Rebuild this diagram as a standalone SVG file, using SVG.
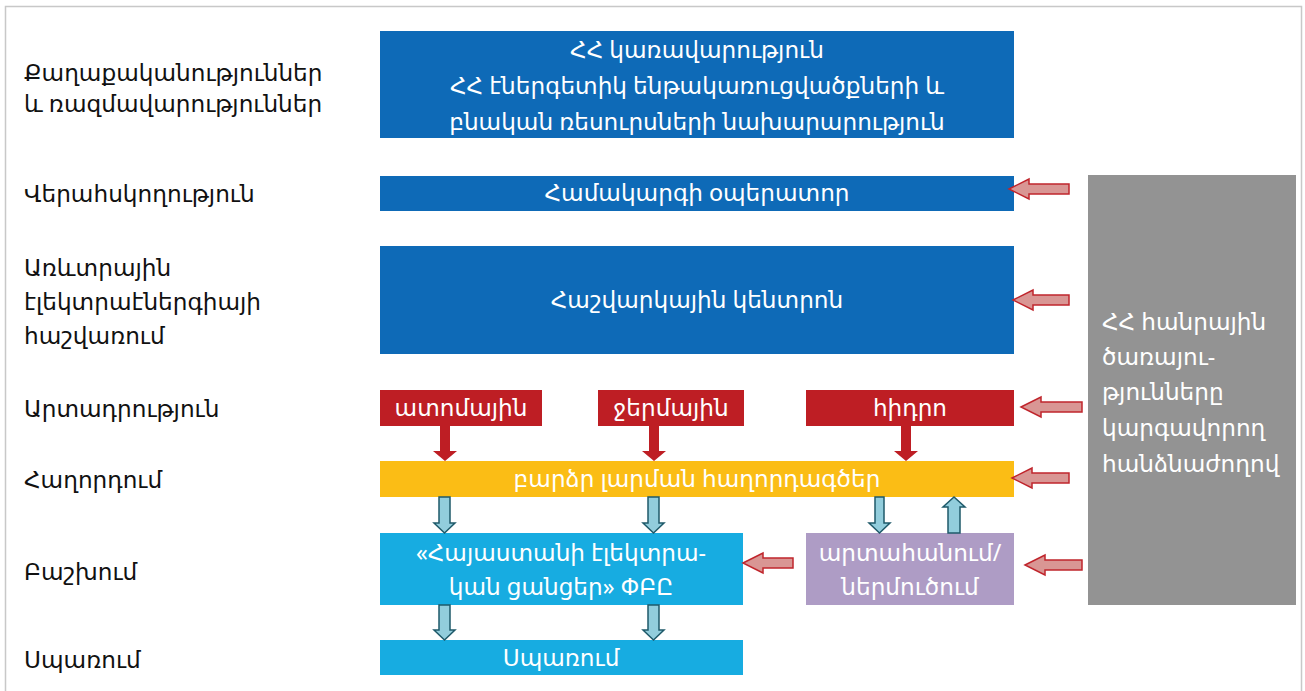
<svg xmlns="http://www.w3.org/2000/svg" width="1305" height="691" viewBox="0 0 1305 691">
<style>
text{font-family:"Noto Sans","DejaVu Sans",sans-serif;font-size:23.2px}
.lbl{fill:#111}
.w{fill:#fff;text-anchor:middle}
.wl{fill:#fff}
.pink{fill:#D99694;stroke:#C0262D;stroke-width:1.5}
.teal{fill:#92CDDC;stroke:#1F5A6A;stroke-width:1.5}
.red{fill:#BE1E24}
</style>
<rect x="0" y="0" width="1305" height="691" fill="#fff"/>
<rect x="5.5" y="6.5" width="1296" height="700" fill="none" stroke="#c8c8c8" stroke-width="1.5"/>
<g id="labels" class="lbl">
<text x="24" y="81" class="lbl">Քաղաքականություններ</text>
<text x="24" y="112" class="lbl">և ռազմավարություններ</text>
<text x="24" y="202" class="lbl">Վերահսկողություն</text>
<text x="24" y="276" class="lbl">Առևտրային</text>
<text x="24" y="310" class="lbl">էլեկտրաէներգիայի</text>
<text x="24" y="344" class="lbl">հաշվառում</text>
<text x="24" y="417" class="lbl">Արտադրություն</text>
<text x="24" y="488" class="lbl">Հաղորդում</text>
<text x="24" y="580" class="lbl">Բաշխում</text>
<text x="24" y="668" class="lbl">Սպառում</text>
</g>
<g id="government">
<rect x="380" y="31" width="634" height="107" fill="#0E6AB7"/>
<text x="697" y="58" class="w">ՀՀ կառավարություն</text>
<text x="697" y="94" class="w">ՀՀ էներգետիկ ենթակառուցվածքների և</text>
<text x="697" y="130" class="w">բնական ռեսուրսների նախարարություն</text>
</g>
<g id="operator">
<rect x="380" y="176" width="634" height="35" fill="#0E6AB7"/>
<text x="697" y="201" class="w">Համակարգի օպերատոր</text>
</g>
<g id="settlement">
<rect x="380" y="246" width="634" height="108" fill="#0E6AB7"/>
<text x="697" y="308" class="w">Հաշվարկային կենտրոն</text>
</g>
<g id="nuclear">
<rect x="380" y="390" width="162" height="36" class="red"/>
<text x="461" y="416" class="w">ատոմային</text>
</g>
<g id="thermal">
<rect x="598" y="390" width="146" height="36" class="red"/>
<text x="671" y="416" class="w">ջերմային</text>
</g>
<g id="hydro">
<rect x="806" y="390" width="208" height="36" class="red"/>
<text x="910" y="416" class="w">հիդրո</text>
</g>
<g id="transmission">
<rect x="380" y="461" width="634" height="36" fill="#FBBD15"/>
<text x="697" y="487" class="w">բարձր լարման հաղորդագծեր</text>
</g>
<g id="distribution">
<rect x="380" y="533" width="363" height="72" fill="#17ACE1"/>
<text x="561" y="561" class="w">«Հայաստանի էլեկտրա-</text>
<text x="561" y="595" class="w">կան ցանցեր» ՓԲԸ</text>
</g>
<g id="exportimport">
<rect x="806" y="533" width="208" height="72" fill="#AE9CC5"/>
<text x="910" y="561" class="w">արտահանում/</text>
<text x="910" y="595" class="w">ներմուծում</text>
</g>
<g id="consumption">
<rect x="380" y="640" width="363" height="35" fill="#17ACE1"/>
<text x="561" y="666" class="w">Սպառում</text>
</g>
<g id="regulator">
<rect x="1088" y="175" width="208" height="430" fill="#939393"/>
<text x="1102" y="330" class="wl">ՀՀ հանրային</text>
<text x="1102" y="365" class="wl">ծառայու-</text>
<text x="1102" y="400" class="wl">թյունները</text>
<text x="1102" y="436" class="wl">կարգավորող</text>
<text x="1102" y="472" class="wl">հանձնաժողով</text>
</g>
<g id="connectors">
<polygon class="red" points="440,426 450,426 450,451 457,451 445,461 433,451 440,451"/>
<polygon class="red" points="649,426 659,426 659,451 666,451 654,461 642,451 649,451"/>
<polygon class="red" points="901,426 911,426 911,451 918,451 906,461 894,451 901,451"/>
<polygon class="teal" points="439,497 450,497 450,523 455,523 444.5,533 434,523 439,523"/>
<polygon class="teal" points="648,497 659,497 659,523 664,523 653.5,533 643,523 648,523"/>
<polygon class="teal" points="875,497 884,497 884,523 890,523 879.5,533 869,523 875,523"/>
<polygon class="teal" points="948,533 960,533 960,507 965,507 954,497 943,507 948,507"/>
<polygon class="teal" points="439,605 450,605 450,630 455,630 444.5,640 434,630 439,630"/>
<polygon class="teal" points="648,605 659,605 659,630 664,630 653.5,640 643,630 648,630"/>
<polygon class="pink" points="1009,189 1029,179 1029,184 1069,184 1069,194 1029,194 1029,199"/>
<polygon class="pink" points="1013,300 1033,290 1033,295 1069,295 1069,305 1033,305 1033,310"/>
<polygon class="pink" points="1021,407 1041,397 1041,402 1082,402 1082,412 1041,412 1041,417"/>
<polygon class="pink" points="1012,478 1032,468 1032,473 1069,473 1069,483 1032,483 1032,488"/>
<polygon class="pink" points="1025,565 1045,555 1045,560 1082,560 1082,570 1045,570 1045,575"/>
<polygon class="pink" points="743,563 763,553 763,558 793,558 793,568 763,568 763,573"/>
</g>
</svg>
